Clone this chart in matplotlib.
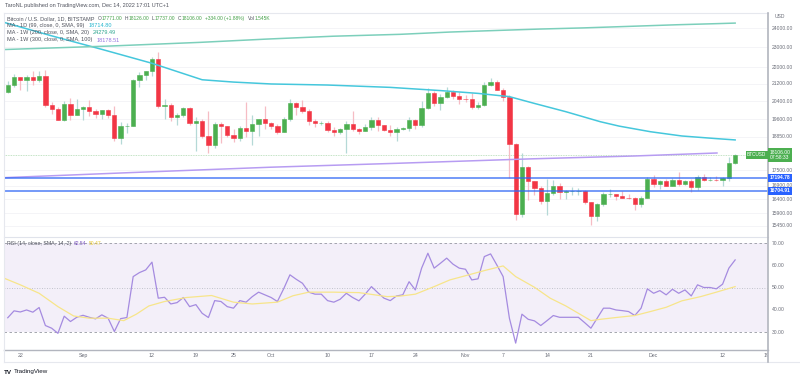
import numpy as np
import matplotlib.pyplot as plt
from matplotlib.lines import Line2D
from matplotlib.patches import Rectangle
from matplotlib.transforms import blended_transform_factory
from matplotlib.offsetbox import TextArea, HPacker, AnchoredOffsetbox

plt.rcParams['font.family'] = ['Liberation Sans', 'DejaVu Sans']

# daily BTCUSD candles, day 0 = 2022-08-20 ... day 116 = 2022-12-14
opens = [20830, 21140, 21520, 21400, 21530, 21370, 21560, 20240, 20030, 19550, 20290, 19800,
         20050, 20130, 19950, 19830, 19990, 19800, 18790, 19290, 19320, 21370, 21650, 21830, 22400, 20170,
         20230, 19700, 19800, 20110, 19420, 19540, 18880, 18490, 19410, 19290, 18920, 18800, 19220, 19080,
         19410, 19590,
         19430, 19310, 19060, 19630, 20340, 20160, 19960, 19530, 19420, 19450, 19130, 19060, 19160, 19380,
         19180, 19070, 19270, 19550, 19330, 19120, 19040, 19170, 19210, 19570, 19330, 20090, 20770, 20300,
         20600, 20810, 20630,
         20490, 20480, 20160, 20210, 21150, 21300, 20920, 20600, 18540, 15880, 17600, 17070, 16810, 16330,
         16620, 16900, 16660, 16700, 16700, 16710, 16280, 15780, 16230, 16600, 16600, 16520, 16460, 16430,
         16210, 16440,
         17170, 16980, 17090, 16890, 17110, 16970, 17090, 16840, 17220, 17130, 17130, 17100, 17200, 17771]
highs = [21360, 21680, 21520, 21650, 21800, 21810, 21880, 20350, 20130, 20400, 20560, 20480,
         20200, 20440, 20050, 20000, 20050, 20170, 19460, 19440, 21450, 21790, 21830, 22490, 22780, 20510,
         20320, 19880, 20150, 20140, 19680, 19620, 19960, 19480, 19470, 19300, 19170, 19310, 20360, 19780,
         19630, 20180,
         19480, 19400, 19700, 20480, 20360, 20450, 20060, 19620, 19540, 19530, 19260, 19220, 19510, 19940,
         19230, 19400, 19680, 19700, 19360, 19350, 19250, 19250, 19690, 19600, 20400, 21000, 20880, 20750,
         21080, 20920, 20830,
         20680, 20780, 20380, 21290, 21470, 21370, 20990, 20700, 18590, 18160, 17650, 17080, 16900, 17170,
         17110, 17000, 16750, 16870, 16800, 16740, 16290, 16270, 16680, 16790, 16600, 16690, 16590, 16480,
         16520, 17240,
         17320, 17100, 17150, 17200, 17420, 17110, 17140, 17300, 17350, 17230, 17260, 17240, 18000, 18126]
lows = [20780, 21080, 20900, 20890, 21150, 21310, 20120, 19830, 19550, 19540, 19550, 19800,
        19570, 19760, 19660, 19600, 19640, 18680, 18530, 19020, 19300, 21080, 21380, 21580, 20090, 19620,
        19540, 19340, 19700, 19350, 18270, 18800, 18180, 18380, 18570, 18830, 18640, 18690, 18820, 18490,
        18900, 19170,
        19160, 18960, 19030, 19520, 19800, 19860, 19350, 19260, 19330, 19040, 18870, 18980, 18180, 19090,
        18980, 19070, 19150, 19110, 19080, 18900, 18660, 19130, 19090, 19160, 19250, 20070, 20200, 20010,
        20560, 20520, 20260,
        20360, 20060, 20030, 20190, 21120, 20900, 20400, 17190, 15650, 15760, 16380, 16550, 16240, 15830,
        16550, 16420, 16400, 16560, 16560, 16230, 15500, 15620, 16170, 16470, 16360, 16430, 16410, 16010,
        16120, 16430,
        16860, 16790, 16880, 16880, 16880, 16920, 16680, 16740, 17080, 17080, 17070, 16880, 17080, 17737]
closes = [21140, 21520, 21400, 21530, 21370, 21560, 20240, 20030, 19550, 20290, 19800, 20050,
          20130, 19950, 19830, 19990, 19800, 18790, 19290, 19320, 21370, 21650, 21830, 22400, 20170, 20230,
          19700, 19800, 20110, 19420, 19540, 18880, 18490, 19410, 19290, 18920, 18800, 19220, 19080, 19410,
          19590, 19430,
          19310, 19060, 19630, 20340, 20160, 19960, 19530, 19420, 19450, 19130, 19060, 19160, 19380, 19180,
          19070, 19270, 19550, 19330, 19120, 19040, 19170, 19210, 19570, 19330, 20090, 20770, 20300, 20600,
          20810, 20630, 20490,
          20480, 20160, 20210, 21150, 21300, 20920, 20600, 18540, 15880, 17600, 17070, 16810, 16330, 16620,
          16900, 16660, 16700, 16700, 16710, 16280, 15780, 16230, 16600, 16600, 16520, 16460, 16430, 16210,
          16440, 17170,
          16980, 17090, 16890, 17110, 16970, 17090, 16840, 17220, 17130, 17130, 17100, 17200, 17780, 18106]
days = np.arange(len(closes))

# moving averages (day, value)
ma99_days = [-0.6, 7, 15, 23, 31, 36, 42, 51, 61, 69, 75, 80, 84, 89, 94.5, 97.5, 102.5, 107.5, 113, 116]
ma99_vals = [24320, 23600, 22900, 22200, 21400, 21290, 21200, 21150, 21040, 20890, 20760, 20610, 20300,
             19930, 19490, 19300, 19060, 18880, 18770, 18715]
ma200w_days = [-0.6, 16.3, 30.7, 41.3, 51.9, 62.6, 70.5, 78.5, 84.9, 91.7, 99.7, 106.7, 113.1, 116]
ma200w_vals = [22890, 23070, 23260, 23430, 23580, 23680, 23800, 23890, 23960, 24020, 24110, 24190, 24250, 24280]
ma300w_days = [-0.6, 20, 41.8, 62, 83.2, 100, 113.1]
ma300w_vals = [17205, 17405, 17610, 17765, 17940, 18058, 18178]
hlines = [17194.78, 16704.91]

rsi_vals = [36.5, 39.6, 39.1, 40.0, 39.0, 41.1, 33.0, 31.8, 29.5, 37.2, 34.8, 36.7,
            37.6, 36.7, 36.0, 37.8, 36.3, 30.3, 36.1, 36.6, 55.0, 56.8, 58.0, 61.5, 45.3, 45.7, 42.7, 43.3,
            45.6, 41.5, 42.4, 38.5, 36.6, 44.2, 43.8, 41.5, 40.8, 44.2, 43.5, 46.0, 48.0, 46.8,
            45.6, 43.8, 49.5, 55.8, 53.8, 52.0, 48.0, 47.1, 47.1, 44.2, 43.5, 44.8, 47.5, 45.6, 44.1, 47.1,
            50.5, 47.8, 45.3, 44.2, 46.3, 46.8, 52.7, 49.0, 58.8, 65.5, 58.8, 61.0, 63.3, 60.6, 58.8,
            58.3, 53.5, 54.0, 64.0, 65.2, 60.2, 55.0, 36.3, 25.1, 38.1, 35.8, 35.1, 33.0, 35.2, 37.5, 36.7,
            36.7, 36.7, 36.7, 34.3, 31.8, 36.3, 40.8, 40.8, 40.0, 39.7, 39.3, 37.5, 40.8, 49.5,
            47.5, 48.7, 46.8, 49.3, 47.5, 49.0, 46.3, 51.3, 50.1, 50.1, 49.5, 51.6, 58.8, 62.5]
rsi_ma_days = [-0.6, 2, 5, 8, 10.5, 13, 16, 18.5, 20.5, 22.5, 25, 28.5, 32.5, 36, 39, 43, 45.5, 48, 52, 56,
               60.5, 62.5, 65, 68, 70.5, 73, 76, 79, 81, 84, 86.5, 89, 93, 94.5, 97, 100, 102.5, 105,
               107.5, 110.5, 113, 116]
rsi_ma_vals = [54.3, 51.3, 47.5, 41.5, 37.3, 36.3, 36.3, 35.2, 38.1, 41.8, 43.8, 45.6, 46.5, 43.5, 42.7,
               43.5, 46.4, 48.0, 48.0, 47.8, 46.0, 46.2, 47.1, 50.5, 53.5, 55.4, 57.7, 59.8, 55.0, 50.2,
               45.3, 41.8, 35.2, 35.8, 36.6, 37.5, 39.3, 41.2, 44.1, 46.0, 48.0, 50.5]

price_ticks = [24000, 23000, 22000, 21200, 20400, 19600, 18850, 17500, 16900, 16400, 15900, 15450]
rsi_ticks = [70, 60, 50, 40, 30]
date_ticks = [2, 12, 23, 30, 36, 42, 51, 58, 65, 73, 79, 86, 93, 103, 114, 121]
date_labels = ['22', 'Sep', '12', '19', '25', 'Oct', '10', '17', '24', 'Nov', '7', '14', '21', 'Dec', '12', '19']

W, H = 800, 378
GRAY = '#50535e'
AXC = '#6a6d78'
GREEN = '#4caf50'
RED = '#f23645'


def fx(px):
    return px / W


def fy(py):
    return 1 - py / H


fig = plt.figure(figsize=(8, 3.78), dpi=100)
ax = fig.add_axes([fx(4), fy(237), fx(764), 224 / H])
ax_rsi = fig.add_axes([fx(4), fy(350), fx(764), 113 / H], sharex=ax)

# price pane
ax.set_yscale('log')
for p in price_ticks:
    ax.axhline(p, color='#f2f3f6', lw=0.6, zorder=0)
o = np.array(opens)
c = np.array(closes)
up = c >= o
body_col = np.where(up, GREEN, RED)
wick_col = np.where(up, '#b5d9d7', '#f6bcc4')
ax.vlines(days, lows, highs, colors=wick_col, lw=0.9, zorder=2)
ax.bar(days, c - o, bottom=o, width=0.68, color=body_col, edgecolor=body_col, linewidth=0.4, zorder=3)

ax.plot(ma99_days, ma99_vals, color='#45c7dc', lw=1.1, zorder=4)
ax.plot(ma200w_days, ma200w_vals, color='#7ccfbb', lw=1.1, zorder=4)
ax.plot(ma300w_days, ma300w_vals, color='#b79cf2', lw=1.1, zorder=4)
for h in hlines:
    ax.axhline(h, color='#2f67f5', lw=1.1, alpha=0.85, zorder=4)
ax.axhline(closes[-1], color=GREEN, lw=0.6, ls=(0, (1, 1)), alpha=0.45, zorder=1)

ax.set_ylim(15075, 24832)
ax.set_xlim(-0.6, 121.24)
ax.tick_params(which='both', left=False, labelleft=False, bottom=False, labelbottom=False)
for s in ax.spines.values():
    s.set_visible(False)

# RSI pane
ax_rsi.axhspan(30, 70, color='#7e57c2', alpha=0.09, lw=0)
for lvl in (70, 30):
    ax_rsi.axhline(lvl, color='#9598a1', lw=0.6, ls=(0, (3, 3)))
ax_rsi.axhline(50, color='#b2b5be', lw=0.6, ls=(0, (1, 2)))
ax_rsi.plot(days, rsi_vals, color='#a58be0', lw=0.9)
ax_rsi.plot(rsi_ma_days, rsi_ma_vals, color='#f7e58a', lw=0.9)
ax_rsi.set_ylim(22.0, 72.8)
ax_rsi.set_xticks(date_ticks, date_labels)
ax_rsi.tick_params(axis='x', length=0, labelsize=3.8, colors=AXC, pad=2.5)
ax_rsi.tick_params(axis='y', left=False, labelleft=False)
for s in ax_rsi.spines.values():
    s.set_visible(False)

# frame lines
def fline(x0, y0, x1, y1, color, lw=0.8, z=2):
    fig.add_artist(Line2D([fx(x0), fx(x1)], [fy(y0), fy(y1)], transform=fig.transFigure,
                          color=color, lw=lw, zorder=z))

fig.add_artist(Rectangle((fx(768), fy(362)), fx(32), (362 - 13) / H, transform=fig.transFigure,
                         color='white', zorder=1))
fline(4, 12.7, 768, 12.7, '#e6e8ee')
fline(4, 237, 768, 237, '#e0e3eb')
fline(4, 350, 768, 350, '#b2b5be', 1.0)
fline(4, 362, 800, 362, '#e6e8ee')
fline(4, 12.7, 4, 362, '#e6e8ee')
fline(768, 12.7, 768, 362, '#b2b5be', 1.2)

# right scale labels
tp = blended_transform_factory(fig.transFigure, ax.transData)
tr = blended_transform_factory(fig.transFigure, ax_rsi.transData)
fig.text(fx(775), fy(16.5), 'USD', fontsize=3.6, color=AXC, va='center')
for p in price_ticks:
    fig.text(fx(772), p, f'{p:.2f}', transform=tp, fontsize=3.6, color=AXC, va='center')
for r in rsi_ticks:
    fig.text(fx(772), r, f'{r:.2f}', transform=tr, fontsize=3.6, color=AXC, va='center')
for h in hlines:
    fig.text(fx(769.5), h, f'{h:.2f}', transform=tp, fontsize=3.6, color='white', va='center',
             weight='bold', bbox=dict(boxstyle='square,pad=0.35', fc='#2962ff', ec='none'), zorder=5)
fig.text(fx(769.5), closes[-1], f'{closes[-1]:.2f}\n07:58:33', transform=tp, fontsize=3.6, color='white',
         va='center', linespacing=1.1, bbox=dict(boxstyle='square,pad=0.35', fc=GREEN, ec='none'), zorder=5)
fig.text(fx(747), closes[-1], 'BTCUSD', transform=tp, fontsize=3.4, color='white', va='center',
         bbox=dict(boxstyle='square,pad=0.3', fc=GREEN, ec='none'), zorder=5)


# legends
def legend_row(x, y, groups, size=4.0, vsize=None, sep=3):
    vsize = vsize or size
    boxes = []
    for gi, grp in enumerate(groups):
        fs = size if gi == 0 else vsize
        parts = [TextArea(t, textprops=dict(color=col, fontsize=fs)) for t, col in grp]
        boxes.append(HPacker(children=parts, sep=0, pad=0, align='baseline'))
    row = HPacker(children=boxes, sep=sep, pad=0, align='baseline')
    box = AnchoredOffsetbox(loc='center left', child=row, pad=0, borderpad=0, frameon=False,
                            bbox_to_anchor=(fx(x), fy(y)), bbox_transform=fig.transFigure)
    box.set_zorder(6)
    fig.add_artist(box)


VG = '#43a047'
fig.text(fx(5), fy(5), 'TaroNL published on TradingView.com, Dec 14, 2022 17:01 UTC+1',
         fontsize=4.0, color=GRAY, va='center')
legend_row(7, 18.3, [[('Bitcoin / U.S. Dollar, 1D, BITSTAMP', GRAY)],
                     [('O', GRAY), ('17771.00', VG)], [('H', GRAY), ('18126.00', VG)],
                     [('L', GRAY), ('17737.00', VG)], [('C', GRAY), ('18106.00', VG)],
                     [('+334.00 (+1.88%)', VG)], [('Vol', GRAY), ('1.545K', VG)]],
           size=4.0, vsize=3.5, sep=2.2)
legend_row(7, 25.5, [[('MA - 1D (99, close, 0, SMA, 99)', GRAY)], [('18714.80', '#26b6cf')]])
legend_row(7, 32.8, [[('MA - 1W (200, close, 0, SMA, 20)', GRAY)], [('24279.49', '#2ea58f')]])
legend_row(7, 40.0, [[('MA - 1W (300, close, 0, SMA, 100)', GRAY)], [('18178.51', '#9575e0')]])
legend_row(7, 243.5, [[('RSI (14, close, SMA, 14, 2)', GRAY)], [('62.54', '#7e57c2')], [('50.47', '#e6c832')]],
           size=3.8, vsize=3.6, sep=2)

fig.text(fx(4), fy(372), 'TV', fontsize=4.5, color='#131722', weight='bold', va='center')
fig.text(fx(14), fy(372), 'TradingView', fontsize=4.5, color='#131722', va='center')

fig.savefig('out.png', dpi=100)
